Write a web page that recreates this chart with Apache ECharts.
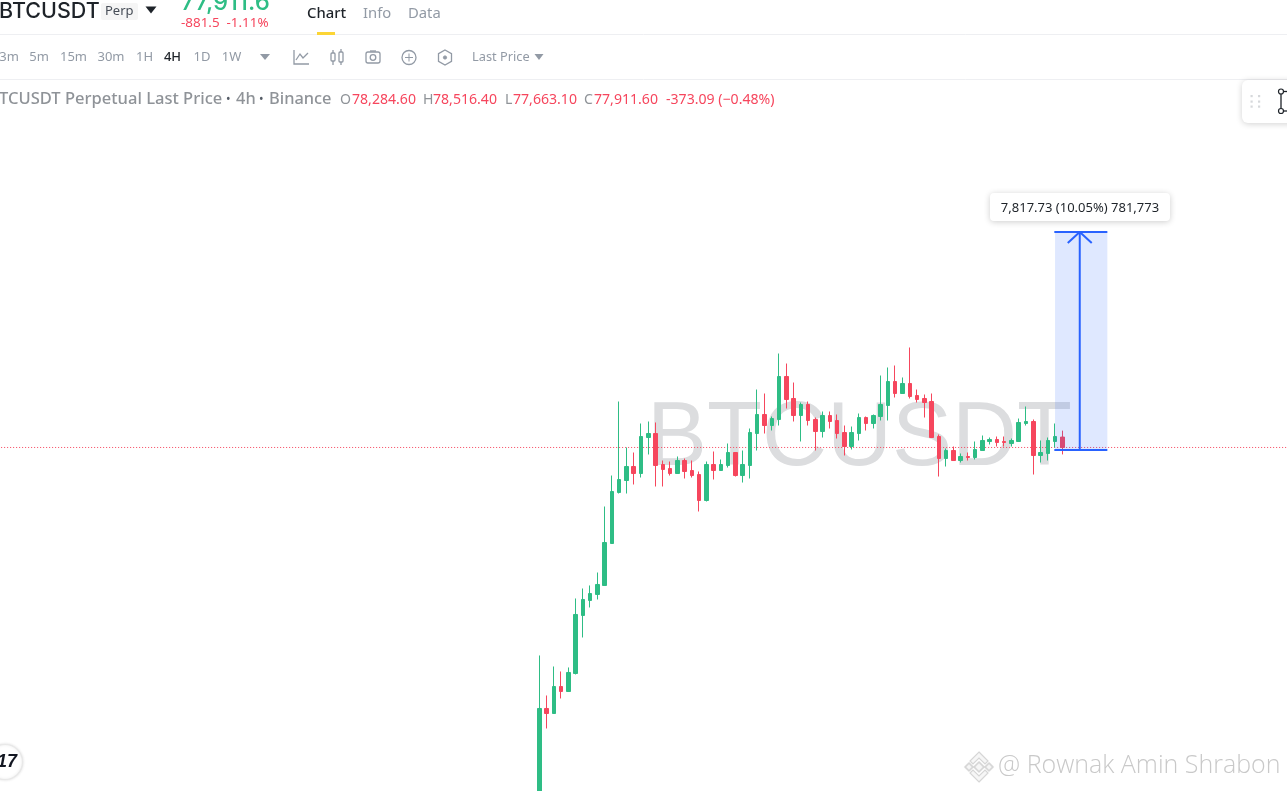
<!DOCTYPE html>
<html><head><meta charset="utf-8">
<style>html,body{margin:0;padding:0;background:#fff;overflow:hidden}#c{width:1287px;height:791px}</style>
<script src="https://cdn.jsdelivr.net/npm/echarts@6/dist/echarts.min.js"></script>
</head><body><div id="c"></div>
<script>
// ---- values (USDT) ----
const opens  = [65252,68552,68372,69340,69161,69807,71887,72425,72640,72963,74468,76297,76727,77229,76978,78269,78412,77301,77157,76978,77444,77086,76942,76010,77301,77086,77265,77731,76906,77265,78412,79094,78699,78915,80457,79668,79058,79453,78915,78484,79058,78879,78448,77946,78412,78986,78771,79022,79417,80277,79847,80206,79775,79668,79560,78305,77516,77803,77444,77588,77552,77803,78126,78198,78126,78054,78126,78771,78843,77624,77696,78126,78284.6];
const closes = [68552,68372,69340,69161,69843,71923,72461,72675,72999,74504,76333,76763,77229,76978,78305,78412,77265,77122,76978,77444,77050,76906,76010,77301,77086,77301,77731,76906,77301,78448,79094,78699,78950,80457,79632,79058,79453,78879,78484,79058,78843,78412,77946,78448,78986,78771,79058,79453,80277,79847,80206,79739,79632,79524,78269,77516,77803,77444,77588,77552,77839,78162,78198,78090,78090,78162,78807,78843,77624,77731,78162,78305,77911.6];
const lows   = [65252,67835,68372,68911,69161,69772,71098,72174,72461,72963,74468,76261,76261,76584,76835,77660,76512,76512,76906,76978,76799,76835,75616,75974,76763,77086,77193,76870,76655,76799,77803,78412,78520,78699,79309,78843,78126,78699,77803,78269,78592,78233,77624,77839,78162,78520,78592,78879,78879,79704,79847,79668,79524,78986,78269,76870,77229,77444,77372,77444,77480,77803,78018,77946,77946,77946,78126,78699,76942,77372,77444,77910,77663.1];
const highs  = [70453,69018,70058,69879,70023,72497,72855,72963,73428,75795,76906,79560,77911,77731,78771,78843,78808,77444,77408,77588,77516,77444,77050,77408,77767,77480,78054,77731,77803,78592,79990,79847,79022,81281,80922,80241,79524,79560,78986,79202,79202,79094,78699,78663,79130,79022,79094,80492,80780,80851,80421,81497,79990,79811,79847,78377,77875,77946,77696,77731,78126,78341,78269,78305,78305,78233,78950,79381,78915,78162,78269,78771,78516.4];
const candleIndexStart = 74;
const bandCount = 178;
const axisMin = 65593, axisMax = 93958;
const lastClose = 77911.6;
const measureLow = 77821, measureHigh = 85638.73, measureHeadPrice = 85245;
const measureLeft = 144.9, measureFillLeft = 145, measureRight = 152.2, measureMid = 148.4, measureHeadLeft = 146.75, measureHeadRight = 150.05;
// ---- texts ----
const intervals = ['3m','5m','15m','30m','1H','4H','1D','1W'];
const intervalX = [9,39,73.5,111,144.5,172.5,202,231.5];
const tabs = ['Chart','Info','Data'];
const tabX = [307,363,408];
const GREEN='#2ebd85', RED='#f6465d', BLUE='#2962ff', GREY='#929aa5', UI='"Noto Sans","Open Sans",sans-serif';

const categories = Array.from({length:bandCount},(_,i)=>String(i));
const candles = opens.map((o,i)=>[i+candleIndexStart,o,closes[i],lows[i],highs[i]]);

function T(text,x,y,size,fill,o){o=o||{};return {type:'text',z:o.z||50,style:{text,x,y,font:(o.s?o.s+' ':'')+(o.w||400)+' '+size+'px '+(o.f||UI),fill,textAlign:o.a||'left',textVerticalAlign:'middle',opacity:o.op==null?1:o.op}};}
function L(x1,y1,x2,y2,c,w,z){return {type:'line',z:z||50,shape:{x1,y1,x2,y2},style:{stroke:c,lineWidth:w||1}};}
function Tri(cx,cy,w,h,c){return {type:'polygon',z:50,shape:{points:[[cx-w/2,cy-h/2],[cx+w/2,cy-h/2],[cx,cy+h/2]]},style:{fill:c}};}
function Circ(cx,cy,r,s,w,f){return {type:'circle',z:50,shape:{cx,cy,r},style:{stroke:s,lineWidth:w||1.3,fill:f||'transparent'}};}
function Poly(pts,s,w){return {type:'polyline',z:50,shape:{points:pts},style:{stroke:s,lineWidth:w||1.3,fill:'transparent'}};}
function RectS(x,y,width,height,r,fill,s,z){const st={fill};if(s){st.stroke=s;st.lineWidth=1.3}return {type:'rect',z:z||50,shape:{x,y,width,height,r},style:st};}
function Dia(cx,cy,r){return {type:'polygon',z:50,shape:{points:[[cx,cy-r],[cx+r,cy],[cx,cy+r],[cx-r,cy]]},style:{fill:'#f6f6f6',stroke:'#d6d6d6',lineWidth:1.2,shadowBlur:1,shadowColor:'rgba(0,0,0,0.15)'}};}
function Chev(pts){return {type:'polygon',z:50,shape:{points:pts},style:{fill:'#f6f6f6',stroke:'#d6d6d6',lineWidth:1.2}};}

const graphics = [
  // big symbol watermark
  {type:'text',z:0,style:{text:'BTCUSDT',x:647,y:440,font:'400 90px "Liberation Sans",sans-serif',fill:'#dcdddf',textAlign:'left',textVerticalAlign:'middle'}},
  // header
  L(0,34.5,1287,34.5,'#eeeff2'), L(0,79.5,1287,79.5,'#eeeff2'),
  T('BTCUSDT',-1,12,21.5,'#1e2329',{f:'Inter,sans-serif',w:500}),
  RectS(101,3,37,17,2,'#f5f5f5'), T('Perp',105,11,13,'#474d57'),
  Tri(151,10,11,7,'#1e2329'),
  T('77,911.6',181,3,24,GREEN,{f:'Inter,sans-serif',w:500}),
  T('-881.5  -1.11%',181,23.5,13.4,RED),
  RectS(317,32,18,3,0,'#fcd535'),
];
tabs.forEach((t,i)=>graphics.push(T(t,tabX[i],14,14.8,i===0?'#1e2329':GREY,{w:i===0?500:400})));
intervals.forEach((t,i)=>graphics.push(T(t,intervalX[i],57.5,13,t==='4H'?'#1e2329':GREY,{a:'center',w:t==='4H'?500:400})));
graphics.push(
  Tri(265,57,10,6,GREY),
  // toolbar icons
  Poly([[294,50],[294,64],[309,64]],GREY), Poly([[296,60],[300,54],[303,58],[308,53]],GREY),
  RectS(331,53,4,8,1,'transparent',GREY), RectS(339,52,4,10,1,'transparent',GREY), L(333,50,333,53,GREY,1.3), L(333,61,333,65,GREY,1.3), L(341,49,341,52,GREY,1.3), L(341,62,341,65,GREY,1.3),
  RectS(366,52,14,11,2,'transparent',GREY), Circ(373,57.5,2.8,GREY), L(370,51,376,51,GREY,1.3),
  Circ(409,57.5,7,GREY), L(405,57.5,413,57.5,GREY), L(409,53.5,409,61.5,GREY),
  {type:'polygon',z:50,shape:{points:[[445,50],[451.5,53.7],[451.5,61.3],[445,65],[438.5,61.3],[438.5,53.7]]},style:{stroke:GREY,lineWidth:1.3,fill:'transparent'}}, Circ(445,57.5,1.6,GREY,1,GREY),
  T('Last Price',472,57.5,12.8,GREY),
  Tri(539,57,9,6,GREY),
  // legend line
  T('TCUSDT Perpetual Last Price',-1,99.5,16.55,'#8f9398',{w:500}),
  T('•',226,99.5,12,'#555c66'), T('4h',236,99.5,16.4,'#8f9398',{w:500}), T('•',259,99.5,12,'#555c66'), T('Binance',269,99.5,16.4,'#8f9398',{w:500}),
  T('O',340,99.5,14.1,'#8f9398'), T('78,284.60',352,99.5,14.1,RED),
  T('H',423,99.5,14.1,'#8f9398'), T('78,516.40',433,99.5,14.1,RED),
  T('L',505,99.5,14.1,'#8f9398'), T('77,663.10',513,99.5,14.1,RED),
  T('C',584,99.5,14.1,'#8f9398'), T('77,911.60',594,99.5,14.1,RED),
  T('-373.09 (−0.48%)',666,99.5,14.1,RED),
  // drawing toolbar
  {type:'rect',z:50,shape:{x:1242,y:80,width:60,height:43,r:6},style:{fill:'#fff',shadowBlur:6,shadowColor:'rgba(0,0,0,0.18)',shadowOffsetY:1}},
  ...[[1251.5,96],[1259,96],[1251.5,101.5],[1259,101.5],[1251.5,106.5],[1259,106.5]].map(p=>({type:'rect',z:51,shape:{x:p[0]-1,y:p[1]-1,width:2.2,height:2.2},style:{fill:'#d6d8db'}})),
  L(1281,92,1281,111,'#1e2329',1.3), L(1283,91.5,1288,91.5,'#1e2329',1.3), L(1283,111,1288,111,'#1e2329',1.3),
  {type:'circle',z:52,shape:{cx:1281,cy:91.5,r:2.5},style:{stroke:'#1e2329',lineWidth:1.2,fill:'#fff'}},
  {type:'circle',z:52,shape:{cx:1281,cy:111,r:2.5},style:{stroke:'#1e2329',lineWidth:1.2,fill:'#fff'}},
  // measure label
  {type:'rect',z:60,shape:{x:990,y:193,width:180,height:28,r:4},style:{fill:'#fff',shadowBlur:6,shadowColor:'rgba(0,0,0,0.2)',shadowOffsetY:1}},
  Object.assign(T('7,817.73 (10.05%) 781,773',1080,208,13,'#1e2329',{a:'center'}),{z:61}),
  // TradingView badge
  {type:'circle',z:50,shape:{cx:5,cy:762,r:17.5},style:{fill:'#fff',stroke:'#e8e8e8',lineWidth:1.2,shadowBlur:3,shadowColor:'rgba(0,0,0,0.12)'}},
  Object.assign(T('17',-3,762,18,'#131722',{f:'"Liberation Sans",sans-serif',w:700,s:'italic'}),{z:51}),
  // author watermark
  Dia(979,767,5), Dia(969,767,4), Dia(989,767,4),
  Chev([[979,752],[988,761],[985,764],[979,758],[973,764],[970,761]]),
  Chev([[979,782],[988,773],[985,770],[979,776],[973,770],[970,773]]),
  {type:'text',z:50,style:{text:'@ Rownak Amin Shrabon',x:998,y:766,font:'300 25px "Open Sans",sans-serif',fill:'#c9c9c9',textVerticalAlign:'middle',shadowBlur:2,shadowColor:'rgba(0,0,0,0.25)',shadowOffsetY:1}}
);

function straight(name,pts,z,width,color,type){return {name,type:'line',xAxisIndex:1,yAxisIndex:0,data:pts,showSymbol:false,symbol:'none',silent:true,animation:false,z,lineStyle:{color:color||BLUE,width:width==null?2:width,type:type||'solid'},clip:true};}

const chart = echarts.init(document.getElementById('c'),null,{renderer:'canvas',width:1287,height:791});
chart.setOption({
  animation:false,
  backgroundColor:'#fff',
  grid:{left:-1.87,top:0,width:1293,height:791,containLabel:false,show:false,outerBoundsMode:'none'},
  tooltip:{show:false},legend:{show:false},
  xAxis:[
    {type:'category',data:categories,show:false,boundaryGap:true},
    {type:'value',min:-0.5,max:bandCount-0.5,show:false,splitLine:{show:false}}
  ],
  yAxis:[{type:'value',min:axisMin,max:axisMax,show:false,splitLine:{show:false},scale:true}],
  series:[
    {name:'BTCUSDT 4h',type:'candlestick',xAxisIndex:0,yAxisIndex:0,z:3,barWidth:4,clip:true,encode:{x:0,y:[1,2,3,4]},
      itemStyle:{color:GREEN,color0:RED,borderColor:GREEN,borderColor0:RED,borderWidth:1},data:candles},
    straight('Last price',[[-0.5,lastClose],[bandCount-0.5,lastClose]],2,1,RED,[1,2]),
    Object.assign(straight('Measure fill',[[measureFillLeft,measureLow],[measureRight,measureLow]],5,0),{
      markArea:{silent:true,z:5,itemStyle:{color:'rgba(41,98,255,0.15)'},data:[[{xAxis:measureFillLeft,yAxis:measureHigh},{xAxis:measureRight,yAxis:measureLow}]]}}),
    straight('Measure top',[[measureLeft,measureHigh],[measureRight,measureHigh]],6),
    straight('Measure bottom',[[measureLeft,measureLow],[measureRight,measureLow]],6),
    straight('Measure shaft',[[measureMid,measureLow],[measureMid,measureHigh]],6),
    straight('Measure head',[[measureHeadLeft,measureHeadPrice],[measureMid,measureHigh],[measureHeadRight,measureHeadPrice]],6)
  ],
  graphic:{elements:graphics}
});
</script></body></html>
